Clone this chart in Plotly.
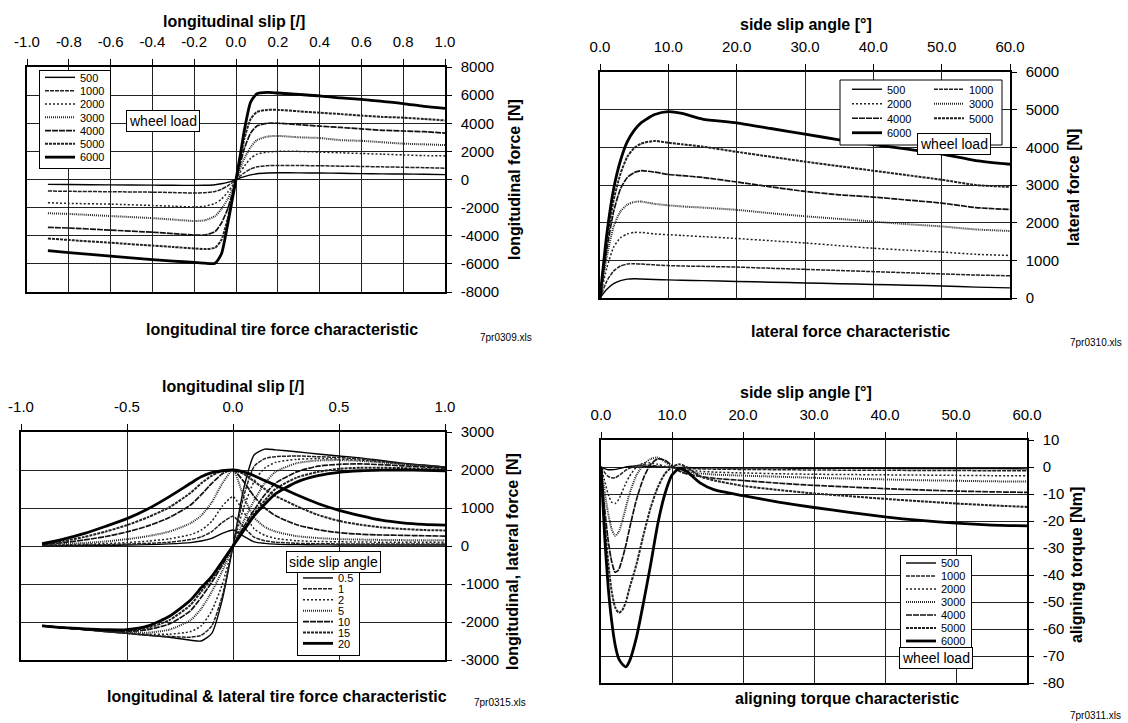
import plotly.graph_objects as go

W, H = 1128, 723

# ------------------------------------------------------------------ data
loads = ["500", "1000", "2000", "3000", "4000", "5000", "6000"]
angles = ["0.5", "1", "2", "5", "10", "15", "20"]

# panel 1: longitudinal force vs longitudinal slip
slip1 = [-0.9, -0.8, -0.6, -0.4, -0.3, -0.2, -0.15, -0.1, -0.07, -0.04, -0.02, 0,
         0.02, 0.04, 0.07, 0.1, 0.15, 0.2, 0.3, 0.4, 0.5, 0.6, 0.7, 0.8, 0.9, 1.0]
fx_500 = [-350, -360, -380, -400, -410, -420, -410, -370, -300, -200, -110, 0,
          110, 210, 330, 410, 460, 480, 470, 460, 440, 420, 400, 390, 370, 350]
fx_1000 = [-820, -840, -870, -900, -930, -960, -940, -850, -700, -450, -250, 0,
           250, 480, 750, 900, 980, 1000, 990, 980, 950, 930, 900, 870, 840, 800]
fx_2000 = [-1650, -1700, -1750, -1850, -1900, -1950, -1900, -1700, -1400, -900, -500, 0,
           500, 950, 1500, 1800, 1950, 2000, 2000, 1950, 1900, 1850, 1800, 1750, 1700, 1680]
fx_3000 = [-2400, -2450, -2600, -2750, -2850, -2950, -2900, -2600, -2100, -1400, -750, 0,
           750, 1500, 2300, 2800, 3050, 3100, 3000, 2950, 2800, 2750, 2650, 2550, 2500, 2450]
fx_4000 = [-3400, -3450, -3600, -3750, -3850, -3950, -3950, -3700, -3100, -2100, -1100, 0,
           1100, 2200, 3300, 3800, 4000, 4000, 3900, 3800, 3700, 3600, 3500, 3450, 3400, 3300]
fx_5000 = [-4200, -4300, -4500, -4700, -4800, -4900, -4950, -4850, -4300, -2800, -1400, 0,
           1400, 2900, 4300, 4800, 4950, 4950, 4850, 4750, 4650, 4550, 4450, 4400, 4300, 4200]
fx_6000 = [-5050, -5200, -5450, -5700, -5800, -5900, -5950, -5950, -5300, -3200, -1600, 0,
           1700, 3500, 5500, 6100, 6200, 6150, 6050, 5950, 5800, 5700, 5550, 5400, 5200, 5050]

# panel 2: lateral force vs side slip angle
alpha2 = [0, 1, 2, 3, 4, 5, 6, 8, 10, 12, 15, 20, 25, 30, 35, 40, 45, 50, 55, 60]
fy_500 = [0, 230, 380, 460, 500, 510, 505, 490, 480, 470, 460, 440, 420, 400, 380, 360, 340, 320, 290, 270]
fy_1000 = [0, 450, 720, 850, 900, 910, 900, 880, 860, 850, 840, 820, 790, 760, 730, 700, 670, 640, 610, 590]
fy_2000 = [0, 800, 1350, 1600, 1700, 1740, 1740, 1700, 1680, 1660, 1630, 1580, 1520, 1460, 1390, 1320, 1270, 1220, 1160, 1130]
fy_3000 = [0, 1100, 1900, 2300, 2480, 2550, 2560, 2500, 2460, 2430, 2400, 2340, 2250, 2170, 2100, 2030, 1960, 1900, 1820, 1780]
fy_4000 = [0, 1300, 2300, 2900, 3200, 3330, 3380, 3340, 3280, 3250, 3200, 3080, 2950, 2830, 2740, 2680, 2600, 2520, 2400, 2350]
fy_5000 = [0, 1500, 2600, 3300, 3750, 3980, 4100, 4170, 4120, 4080, 4020, 3880, 3750, 3620, 3500, 3380, 3260, 3140, 3000, 2950]
fy_6000 = [0, 1700, 2900, 3650, 4150, 4450, 4650, 4870, 4950, 4900, 4750, 4650, 4500, 4350, 4200, 4070, 3950, 3820, 3650, 3550]

# panel 3: combined slip, longitudinal (S-curves) and lateral (bells)
slip3 = [-0.9, -0.8, -0.7, -0.6, -0.5, -0.4, -0.3, -0.2, -0.15, -0.1, -0.05, 0,
         0.05, 0.1, 0.15, 0.2, 0.3, 0.4, 0.5, 0.6, 0.7, 0.8, 0.9, 1.0]
fxc_05 = [-2100, -2150, -2200, -2250, -2300, -2350, -2400, -2480, -2500, -2300, -1400, 0,
          1500, 2400, 2550, 2530, 2480, 2420, 2370, 2320, 2250, 2180, 2130, 2080]
fxc_1 = [-2100, -2150, -2200, -2250, -2300, -2350, -2380, -2400, -2350, -2100, -1300, 0,
         1300, 2100, 2300, 2350, 2370, 2350, 2330, 2290, 2230, 2170, 2120, 2080]
fxc_2 = [-2100, -2150, -2200, -2250, -2280, -2320, -2320, -2250, -2100, -1700, -1000, 0,
         1000, 1700, 2050, 2200, 2280, 2300, 2290, 2260, 2210, 2160, 2110, 2070]
fxc_5 = [-2100, -2150, -2200, -2250, -2280, -2280, -2200, -1950, -1650, -1200, -650, 0,
         650, 1200, 1650, 1950, 2180, 2250, 2260, 2240, 2200, 2150, 2110, 2070]
fxc_10 = [-2100, -2150, -2200, -2230, -2250, -2200, -2050, -1700, -1350, -950, -500, 0,
          500, 950, 1350, 1650, 1950, 2100, 2150, 2160, 2140, 2110, 2080, 2050]
fxc_15 = [-2100, -2150, -2190, -2220, -2220, -2150, -1950, -1550, -1200, -850, -430, 0,
          430, 850, 1200, 1500, 1800, 1950, 2030, 2060, 2060, 2050, 2030, 2010]
fxc_20 = [-2100, -2150, -2180, -2200, -2200, -2100, -1850, -1420, -1100, -800, -400, 0,
          400, 800, 1100, 1370, 1680, 1850, 1940, 1980, 1995, 2000, 1990, 1980]
fyc_05 = [5, 8, 12, 18, 25, 35, 55, 90, 130, 200, 330, 420,
          260, 110, 70, 50, 35, 30, 28, 25, 25, 25, 25, 25]
fyc_1 = [10, 15, 25, 35, 50, 70, 100, 170, 240, 380, 620, 780,
         500, 230, 140, 100, 70, 60, 55, 50, 50, 50, 50, 50]
fyc_2 = [20, 30, 45, 65, 90, 130, 190, 300, 420, 650, 1050, 1300,
         900, 450, 280, 200, 140, 120, 110, 105, 100, 100, 100, 100]
fyc_5 = [30, 50, 80, 120, 180, 260, 380, 600, 800, 1150, 1650, 2000,
         1300, 750, 500, 380, 260, 210, 180, 170, 160, 155, 150, 150]
fyc_10 = [40, 90, 160, 250, 370, 530, 750, 1080, 1350, 1650, 1900, 2000,
          1700, 1300, 1000, 800, 560, 430, 350, 310, 290, 280, 270, 260]
fyc_15 = [50, 130, 240, 380, 550, 760, 1020, 1400, 1650, 1850, 1980, 2000,
          1900, 1700, 1500, 1320, 1050, 820, 660, 560, 490, 450, 420, 410]
fyc_20 = [60, 180, 330, 520, 720, 980, 1300, 1650, 1820, 1930, 1980, 2000,
          1950, 1850, 1720, 1600, 1350, 1120, 940, 800, 680, 610, 570, 550]

# panel 4: aligning torque vs side slip angle
alpha4 = [0, 0.5, 1, 1.5, 2, 2.5, 3, 3.5, 4, 5, 6, 7, 8, 9, 10, 11, 12, 14, 16,
          20, 25, 30, 35, 40, 45, 50, 55, 60]
mz_500 = [0, -0.6, -1, -1, -0.9, -0.6, -0.3, 0, 0.2, 0.4, 0.3, 0.2, 0.1, 0, -0.1, -0.2, -0.2,
          -0.3, -0.3, -0.4, -0.4, -0.5, -0.5, -0.5, -0.6, -0.6, -0.6, -0.7]
mz_1000 = [0, -2, -3.5, -4, -4, -3.2, -2.2, -1.2, -0.5, 0.5, 0.8, 0.6, 0.3, 0, -0.2, -0.4, -0.5,
           -0.7, -0.8, -0.9, -1, -1.1, -1.2, -1.2, -1.3, -1.3, -1.4, -1.4]
mz_2000 = [0, -5, -10, -13, -13.5, -12, -9, -6, -3.5, 0, 1.5, 1.5, 1, 0.3, -0.3, -0.8, -1.2,
           -1.6, -1.9, -2.2, -2.5, -2.7, -2.8, -2.9, -3, -3.1, -3.2, -3.2]
mz_3000 = [0, -9, -17, -23, -25.5, -24, -20, -15, -10, -3, 1, 3, 3.5, 2, 0, -1, -1.8,
           -2.4, -2.8, -3.2, -3.6, -4, -4.3, -4.6, -4.9, -5.1, -5.3, -5.4]
mz_4000 = [0, -15, -27, -35, -39, -38, -34, -29, -23, -12, -4, 1, 3, 2.5, 0.5, -1.5, -2.5,
           -3.5, -4.2, -5, -6, -6.8, -7.4, -8, -8.5, -8.9, -9.2, -9.4]
mz_5000 = [0, -20, -35, -46, -52, -54, -53, -50, -45, -36, -25, -15, -7.5, -2.5, 0, 1, 0,
           -3.5, -5, -7, -8.5, -9.8, -10.8, -11.8, -12.7, -13.5, -14.2, -14.8]
mz_6000 = [0, -25, -44, -57, -66, -71, -73, -74, -72, -63, -50, -36, -21, -10, -3, -0.5, -1.5,
           -6, -8.5, -10.6, -13, -15, -16.8, -18.5, -19.8, -20.8, -21.5, -21.8]

# tick labels
p1_xticks = [-1.0, -0.8, -0.6, -0.4, -0.2, 0.0, 0.2, 0.4, 0.6, 0.8, 1.0]
p1_xtext = ["-1.0", "-0.8", "-0.6", "-0.4", "-0.2", "0.0", "0.2", "0.4", "0.6", "0.8", "1.0"]
p1_yticks = [8000, 6000, 4000, 2000, 0, -2000, -4000, -6000, -8000]
p1_ytext = ["8000", "6000", "4000", "2000", "0", "-2000", "-4000", "-6000", "-8000"]
p2_xticks = [0, 10, 20, 30, 40, 50, 60]
p2_xtext = ["0.0", "10.0", "20.0", "30.0", "40.0", "50.0", "60.0"]
p2_yticks = [0, 1000, 2000, 3000, 4000, 5000, 6000]
p2_ytext = ["0", "1000", "2000", "3000", "4000", "5000", "6000"]
p3_xticks = [-1.0, -0.5, 0.0, 0.5, 1.0]
p3_xtext = ["-1.0", "-0.5", "0.0", "0.5", "1.0"]
p3_yticks = [3000, 2000, 1000, 0, -1000, -2000, -3000]
p3_ytext = ["3000", "2000", "1000", "0", "-1000", "-2000", "-3000"]
p4_xticks = [0, 10, 20, 30, 40, 50, 60]
p4_xtext = ["0.0", "10.0", "20.0", "30.0", "40.0", "50.0", "60.0"]
p4_yticks = [10, 0, -10, -20, -30, -40, -50, -60, -70, -80]
p4_ytext = ["10", "0", "-10", "-20", "-30", "-40", "-50", "-60", "-70", "-80"]

# ------------------------------------------------------------------ styles
FONT = "Liberation Sans, Arial, Helvetica, sans-serif"
styles = [
    dict(color="#000000", width=1.4, dash="solid"),
    dict(color="#222222", width=1.5, dash="4px,1px"),
    dict(color="#222222", width=1.5, dash="2px,2px"),
    dict(color="#2a2a2a", width=2.0, dash="1px,1px"),
    dict(color="#111111", width=1.7, dash="6px,1px"),
    dict(color="#222222", width=2.0, dash="3px,1px"),
    dict(color="#000000", width=2.8, dash="solid"),
]

fig = go.Figure()

p1_series = [fx_500, fx_1000, fx_2000, fx_3000, fx_4000, fx_5000, fx_6000]
for i, (name, ys) in enumerate(zip(loads, p1_series)):
    fig.add_trace(go.Scatter(x=slip1, y=ys, name=name, mode="lines",
                             line=dict(shape="spline", smoothing=0.6, **styles[i]),
                             xaxis="x", yaxis="y", legend="legend"))

p2_series = [fy_500, fy_1000, fy_2000, fy_3000, fy_4000, fy_5000, fy_6000]
for i, (name, ys) in enumerate(zip(loads, p2_series)):
    fig.add_trace(go.Scatter(x=alpha2, y=ys, name=name, mode="lines",
                             line=dict(shape="spline", smoothing=0.6, **styles[i]),
                             xaxis="x2", yaxis="y2",
                             legend="legend2" if i % 2 == 0 else "legend3"))

p3_long = [fxc_05, fxc_1, fxc_2, fxc_5, fxc_10, fxc_15, fxc_20]
p3_lat = [fyc_05, fyc_1, fyc_2, fyc_5, fyc_10, fyc_15, fyc_20]
for i, name in enumerate(angles):
    fig.add_trace(go.Scatter(x=slip3, y=p3_long[i], name=name, mode="lines",
                             line=dict(shape="spline", smoothing=0.6, **styles[i]),
                             xaxis="x3", yaxis="y3", legend="legend4"))
    fig.add_trace(go.Scatter(x=slip3, y=p3_lat[i], name=name, mode="lines",
                             showlegend=False,
                             line=dict(shape="spline", smoothing=0.6, **styles[i]),
                             xaxis="x3", yaxis="y3", legend="legend4"))

p4_series = [mz_500, mz_1000, mz_2000, mz_3000, mz_4000, mz_5000, mz_6000]
for i, (name, ys) in enumerate(zip(loads, p4_series)):
    fig.add_trace(go.Scatter(x=alpha4, y=ys, name=name, mode="lines",
                             line=dict(shape="spline", smoothing=0.6, **styles[i]),
                             xaxis="x4", yaxis="y4", legend="legend5"))

# ------------------------------------------------------------------ layout
def px_x(p):
    return p / W


def px_y(p):
    return 1 - p / H


# plot areas in pixels: left, right, top, bottom
boxes = {
    1: (27, 445, 67, 292),
    2: (600, 1010, 72, 298),
    3: (21, 445, 432, 660),
    4: (601, 1027, 440, 683),
}

ticks = {
    1: (p1_xticks, p1_xtext, p1_yticks, p1_ytext, [-1, 1], [-8000, 8000]),
    2: (p2_xticks, p2_xtext, p2_yticks, p2_ytext, [0, 60], [0, 6000]),
    3: (p3_xticks, p3_xtext, p3_yticks, p3_ytext, [-1, 1], [-3000, 3000]),
    4: (p4_xticks, p4_xtext, p4_yticks, p4_ytext, [0, 60], [-80, 10]),
}

axes = {}
for k, (l, r, t, b) in boxes.items():
    xt, xtt, yt, ytt, xr, yr = ticks[k]
    sfx = "" if k == 1 else str(k)
    axes["xaxis" + sfx] = dict(
        domain=[px_x(l), px_x(r)], range=xr, side="top", anchor="y" + sfx,
        tickmode="array", tickvals=xt, ticktext=xtt, automargin=False,
        showgrid=True, gridcolor="#222222", gridwidth=1.2, zeroline=False,
        showline=True, linecolor="black", linewidth=1.5, mirror=True,
        ticks="outside", ticklen=6, tickcolor="black", tickwidth=1.2,
        tickfont=dict(family=FONT, size=15, color="black"), ticklabelstandoff=6,
    )
    axes["yaxis" + sfx] = dict(
        domain=[px_y(b), px_y(t)], range=yr, side="right", anchor="x" + sfx,
        tickmode="array", tickvals=yt, ticktext=ytt, automargin=False,
        showgrid=True, gridcolor="#222222", gridwidth=1.2, zeroline=False,
        showline=True, linecolor="black", linewidth=1.5, mirror=True,
        ticks="outside", ticklen=5, tickcolor="black", tickwidth=1.2,
        tickfont=dict(family=FONT, size=15, color="black"), ticklabelstandoff=6,
    )


def ann(text, x, y, size=16, bold=True, angle=0, box=False):
    d = dict(text=text, x=px_x(x), y=px_y(y), xref="paper", yref="paper",
             showarrow=False, textangle=angle, xanchor="center", yanchor="middle",
             font=dict(family=FONT, size=size, color="black",
                       weight="bold" if bold else "normal"))
    if box:
        d.update(bgcolor="white", bordercolor="black", borderwidth=1, borderpad=2)
    return d


annotations = [
    ann("longitudinal slip [/]", 234, 21),
    ann("longitudinal force [N]", 514, 180, angle=-90),
    ann("longitudinal tire force characteristic", 282, 330),
    ann("7pr0309.xls", 506, 337, size=10, bold=False),
    ann("wheel load", 163, 121, size=14, bold=False, box=True),

    ann("side slip angle [°]", 806, 25),
    ann("lateral force [N]", 1074, 188, angle=-90),
    ann("lateral force characteristic", 850, 332),
    ann("7pr0310.xls", 1096, 342, size=10, bold=False),
    ann("wheel load", 954, 144, size=14, bold=False, box=True),

    ann("longitudinal slip [/]", 233, 386),
    ann("longitudinal, lateral force [N]", 512, 562, angle=-90),
    ann("longitudinal & lateral tire force characteristic", 277, 696),
    ann("7pr0315.xls", 500, 702, size=10, bold=False),
    ann("side slip angle", 333, 562, size=14, bold=False, box=True),

    ann("side slip angle [°]", 806, 392),
    ann("aligning torque [Nm]", 1076, 565, angle=-90),
    ann("aligning torque characteristic", 847, 698),
    ann("7pr0311.xls", 1095, 715, size=10, bold=False),
    ann("wheel load", 936, 658, size=14, bold=False, box=True),
]

legend_base = dict(bgcolor="white", bordercolor="black", borderwidth=1,
                   font=dict(family=FONT, size=11, color="black"),
                   xanchor="left", yanchor="top", tracegroupgap=0, itemwidth=30,
                   traceorder="normal")

fig.update_layout(
    width=W, height=H, margin=dict(l=0, r=0, t=0, b=0, autoexpand=False),
    paper_bgcolor="white", plot_bgcolor="white",
    font=dict(family=FONT, color="black"),
    legend=dict(legend_base, x=px_x(39), y=px_y(70)),
    legend2=dict(legend_base, x=px_x(847), y=px_y(80), borderwidth=0, bgcolor="rgba(0,0,0,0)"),
    legend3=dict(legend_base, x=px_x(929), y=px_y(80), borderwidth=0, bgcolor="rgba(0,0,0,0)"),
    legend4=dict(legend_base, x=px_x(297), y=px_y(571)),
    legend5=dict(legend_base, x=px_x(900), y=px_y(555)),
    annotations=annotations,
    shapes=[dict(type="rect", xref="paper", yref="paper",
                 x0=px_x(840), x1=px_x(1002), y0=px_y(80), y1=px_y(145),
                 line=dict(color="black", width=1), fillcolor="white", layer="above")],
    showlegend=True,
    hovermode=False,
    **axes,
)

# remove the page margin and tighten the legend row pitch to the reference
# spacing (row pitch, top pad, box height)
squeeze_js = """
document.documentElement.style.margin = '0';
document.documentElement.style.padding = '0';
document.body.style.margin = '0';
document.body.style.padding = '0';
document.body.style.overflow = 'hidden';
var gd = document.getElementById('{plot_id}');
var spec = {'legend': [13.3, 0.7, 98], 'legend2': [14.5, 2, 0], 'legend3': [14.5, 2, 0],
            'legend4': [10.9, 1.5, 84], 'legend5': [13, 1.5, 97]};
Object.keys(spec).forEach(function (id) {
  var leg = gd.querySelector('g.infolayer > g.' + id);
  if (!leg) return;
  var row = spec[id][0], pad = spec[id][1], hgt = spec[id][2];
  var tr = leg.querySelectorAll('g.traces');
  tr.forEach(function (t, i) {
    var tf = t.getAttribute('transform') || '';
    var m = /translate\\(\\s*([-0-9.eE]+)[\\s,]+([-0-9.eE]+)\\s*\\)/.exec(tf);
    var x = m ? parseFloat(m[1]) : 0;
    t.setAttribute('transform', 'translate(' + x + ',' + (pad + row / 2 + i * row) + ')');
  });
  var bg = leg.querySelector('rect.bg');
  if (bg && hgt > 0) bg.setAttribute('height', hgt);
});
"""

fig.write_html("out.html", post_script=squeeze_js,
               config={"displayModeBar": False, "staticPlot": False})
